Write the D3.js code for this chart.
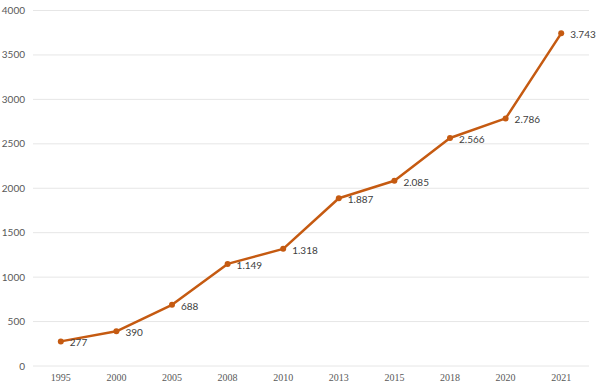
<!DOCTYPE html>
<html>
<head>
<meta charset="utf-8">
<script src="https://cdn.jsdelivr.net/npm/d3@7"></script>
<style>
  body { margin: 0; background: #fff; }
</style>
</head>
<body>
<svg id="chart"></svg>
<script>
const years = ["1995", "2000", "2005", "2008", "2010", "2013", "2015", "2018", "2020", "2021"];
const values = [277, 390, 688, 1149, 1318, 1887, 2085, 2566, 2786, 3743];
const yTicks = [0, 500, 1000, 1500, 2000, 2500, 3000, 3500, 4000];

const width = 600;
const height = 387;
const margin = { top: 10.5, right: 11, bottom: 21, left: 33 };

const svg = d3.select("#chart")
  .attr("width", width)
  .attr("height", height);

const x = d3.scaleBand()
  .domain(years)
  .range([margin.left, width - margin.right])
  .padding(0);

const y = d3.scaleLinear()
  .domain([0, 4000])
  .range([height - margin.bottom, margin.top]);

// grid lines
svg.append("g")
  .selectAll("line")
  .data(yTicks)
  .enter()
  .append("line")
  .attr("x1", margin.left)
  .attr("x2", width - margin.right)
  .attr("y1", d => y(d))
  .attr("y2", d => y(d))
  .attr("stroke", "#e6e6e6")
  .attr("stroke-width", 1);

// y labels
svg.append("g")
  .selectAll("text")
  .data(yTicks)
  .enter()
  .append("text")
  .attr("x", 25)
  .attr("y", d => y(d))
  .attr("dy", "0.35em")
  .attr("text-anchor", "end")
  .attr("font-family", "Lato, 'Liberation Sans', sans-serif")
  .attr("font-size", 10)
  .attr("fill", "#595959")
  .text(d => d);

// x labels
svg.append("g")
  .selectAll("text")
  .data(years)
  .enter()
  .append("text")
  .attr("x", d => x(d) + x.bandwidth() / 2)
  .attr("y", 377)
  .attr("dy", "0.35em")
  .attr("text-anchor", "middle")
  .attr("font-family", "'Liberation Serif', serif")
  .attr("font-size", 10)
  .attr("fill", "#595959")
  .text(d => d);

const points = years.map((yr, i) => ({ year: yr, value: values[i] }));
const cx = d => x(d.year) + x.bandwidth() / 2;

const line = d3.line()
  .x(cx)
  .y(d => y(d.value));

svg.append("path")
  .datum(points)
  .attr("fill", "none")
  .attr("stroke", "#C55A11")
  .attr("stroke-width", 2.5)
  .attr("stroke-linejoin", "round")
  .attr("d", line);

svg.append("g")
  .selectAll("circle")
  .data(points)
  .enter()
  .append("circle")
  .attr("cx", cx)
  .attr("cy", d => y(d.value))
  .attr("r", 3)
  .attr("fill", "#C55A11");

const fmt = d3.formatLocale({ decimal: ",", thousands: ".", grouping: [3], currency: ["", ""] }).format(",d");

svg.append("g")
  .selectAll("text")
  .data(points)
  .enter()
  .append("text")
  .attr("x", d => cx(d) + 9)
  .attr("y", d => y(d.value) + 1.5)
  .attr("dy", "0.35em")
  .attr("font-family", "Lato, 'Liberation Sans', sans-serif")
  .attr("font-size", 10)
  .attr("fill", "#404040")
  .text(d => fmt(d.value));
</script>
</body>
</html>
